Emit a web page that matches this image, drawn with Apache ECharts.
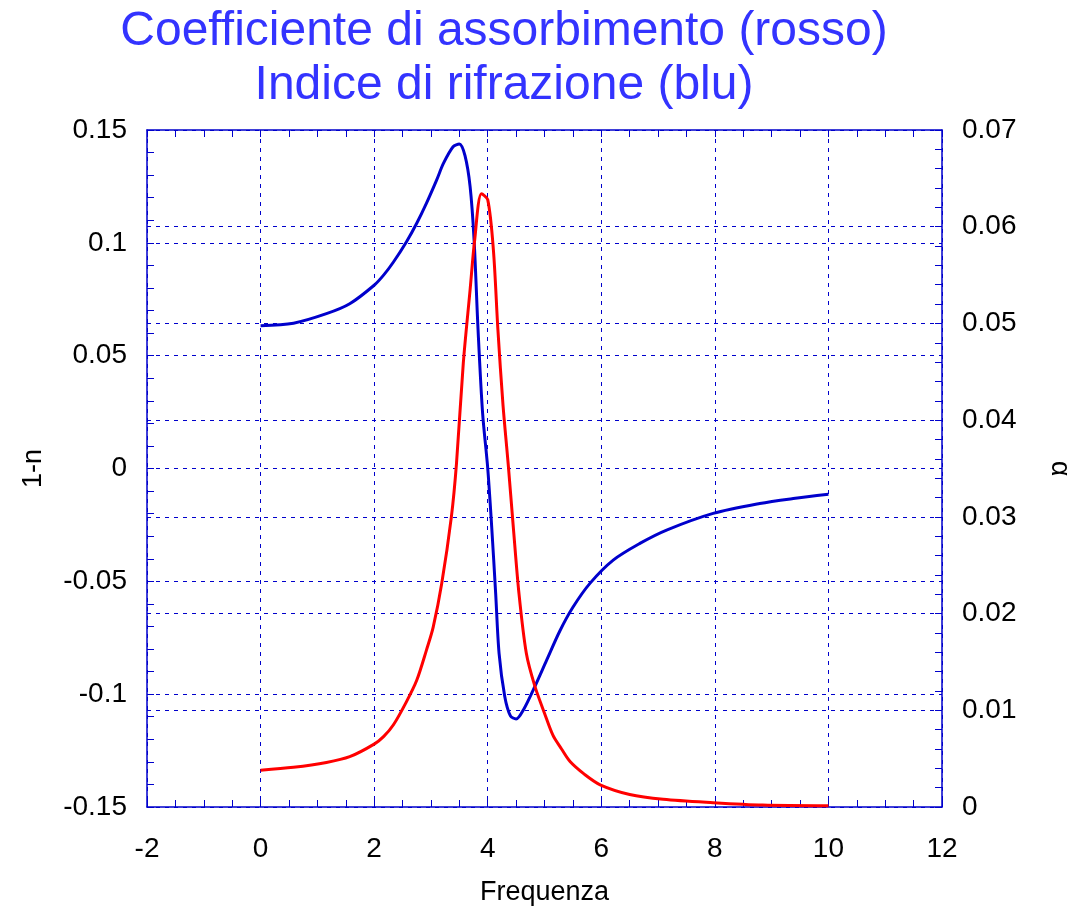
<!DOCTYPE html>
<html>
<head>
<meta charset="utf-8">
<script src="https://cdn.jsdelivr.net/npm/echarts@6/dist/echarts.min.js"></script>
<style>
  html, body { margin: 0; padding: 0; background: #fff; }
  #main { width: 1073px; height: 906px; }
</style>
</head>
<body>
<div id="main"></div>
<script>
// indice di rifrazione: 1-n (asse sinistro)
var freqN = [0, 0.58, 1.16, 1.57, 2.0, 2.17, 2.34, 2.57, 2.75, 2.92, 3.1, 3.22, 3.39, 3.5, 3.6, 3.69, 3.76, 3.83, 3.91, 4.0, 4.07, 4.14, 4.2, 4.3, 4.4, 4.5, 4.63, 4.83, 5.04, 5.27, 5.5, 5.8, 6.21, 6.68, 7.15, 7.97, 8.79, 9.38, 10];
var unoMenoN = [0.0633, 0.0644, 0.0686, 0.0730, 0.0812, 0.0858, 0.0915, 0.1005, 0.1087, 0.1175, 0.1278, 0.1352, 0.1426, 0.1438, 0.1386, 0.1249, 0.1013, 0.0614, 0.0245, 0.0002, -0.0258, -0.0553, -0.0819, -0.101, -0.1096, -0.111, -0.1069, -0.0966, -0.0848, -0.072, -0.0615, -0.0509, -0.0406, -0.0332, -0.0273, -0.0199, -0.0155, -0.0133, -0.0114];

// coefficiente di assorbimento: alfa (asse destro)
var freqA = [0, 0.58, 1.16, 1.57, 2.0, 2.17, 2.34, 2.57, 2.75, 2.92, 3.04, 3.19, 3.36, 3.45, 3.57, 3.69, 3.77, 3.89, 4.0, 4.1, 4.18, 4.27, 4.36, 4.45, 4.55, 4.68, 4.83, 5.0, 5.15, 5.3, 5.45, 5.7, 5.98, 6.5, 7.09, 7.97, 8.84, 10];
var alfa = [0.0038, 0.0041, 0.0046, 0.0052, 0.0065, 0.0073, 0.0085, 0.0109, 0.0131, 0.0162, 0.0186, 0.0231, 0.030, 0.0355, 0.0459, 0.0535, 0.0586, 0.0634, 0.0628, 0.0576, 0.0493, 0.0415, 0.0355, 0.029, 0.0221, 0.0159, 0.0125, 0.0097, 0.0074, 0.0060, 0.0047, 0.0034, 0.0023, 0.0013, 0.0008, 0.00045, 0.0002, 0.00013];

var titolo1 = 'Coefficiente di assorbimento (rosso)';
var titolo2 = 'Indice di rifrazione (blu)';

var blu = '#0000cc';
var font = 'Liberation Sans, Arial, sans-serif';

function coppie(xs, ys) {
    var out = [];
    for (var i = 0; i < xs.length; i++) out.push([xs[i], ys[i]]);
    return out;
}

var dom = document.getElementById('main');
var myChart = echarts.init(dom);

var assex = {
    type: 'value', min: -2, max: 12, interval: 2,
    axisLine: { onZero: false, lineStyle: { color: blu, width: 1.5 } },
    axisTick: { inside: true, length: 7, lineStyle: { color: blu } },
    minorTick: { show: true, splitNumber: 4, length: 7, lineStyle: { color: blu } }
};

var option = {
    animation: false,
    graphic: [
        { type: 'text', x: 504, y: 32, style: { text: titolo1, fill: '#3333ff', font: '48px ' + font, textAlign: 'center', textVerticalAlign: 'middle' } },
        { type: 'text', x: 504, y: 86, style: { text: titolo2, fill: '#3333ff', font: '48px ' + font, textAlign: 'center', textVerticalAlign: 'middle' } }
    ],
    grid: { left: 147, right: 131, top: 130, bottom: 99, outerBoundsMode: 'none', containLabel: false },
    xAxis: [
        Object.assign({}, assex, {
            position: 'bottom',
            name: 'Frequenza', nameLocation: 'middle', nameGap: 72,
            nameTextStyle: { color: '#000', fontSize: 27, fontFamily: font },
            axisLabel: { color: '#000', fontSize: 28, fontFamily: font, margin: 28 },
            splitLine: { show: true, lineStyle: { color: blu, type: [4, 5], width: 1 } }
        }),
        Object.assign({}, assex, {
            position: 'top',
            axisLabel: { show: false },
            splitLine: { show: false }
        })
    ],
    yAxis: [
        {
            type: 'value', min: -0.15, max: 0.15, interval: 0.05, position: 'left',
            name: '1-n', nameLocation: 'middle', nameGap: 100,
            nameTextStyle: { color: '#000', fontSize: 27, fontFamily: font },
            axisLine: { show: true, onZero: false, lineStyle: { color: blu, width: 1.5 } },
            axisTick: { inside: true, length: 7, lineStyle: { color: blu } },
            minorTick: { show: true, splitNumber: 5, length: 7, lineStyle: { color: blu } },
            axisLabel: { color: '#000', fontSize: 28, fontFamily: font, margin: 20 },
            splitLine: { show: true, lineStyle: { color: blu, type: [4, 5], width: 1 } }
        },
        {
            type: 'value', min: 0, max: 0.07, interval: 0.01, position: 'right',
            name: 'α', nameLocation: 'middle', nameGap: 104, nameRotate: -90,
            nameTextStyle: { color: '#000', fontSize: 27, fontFamily: font },
            axisLine: { show: true, onZero: false, lineStyle: { color: blu, width: 1.5 } },
            axisTick: { inside: true, length: 7, lineStyle: { color: blu } },
            minorTick: { show: true, splitNumber: 5, length: 7, lineStyle: { color: blu } },
            axisLabel: { color: '#000', fontSize: 28, fontFamily: font, margin: 20 },
            splitLine: { show: true, lineStyle: { color: blu, type: [4, 5], width: 1 } }
        }
    ],
    series: [
        {
            name: '1-n', type: 'line', xAxisIndex: 0, yAxisIndex: 0,
            data: coppie(freqN, unoMenoN), smooth: 0.3, showSymbol: false,
            lineStyle: { color: blu, width: 3 }, z: 3
        },
        {
            name: 'alfa', type: 'line', xAxisIndex: 0, yAxisIndex: 1,
            data: coppie(freqA, alfa), smooth: 0.3, showSymbol: false,
            lineStyle: { color: '#ff0000', width: 3 }, z: 4
        }
    ]
};

if (option && typeof option === "object") {
    myChart.setOption(option, true);
}
</script>
</body>
</html>
